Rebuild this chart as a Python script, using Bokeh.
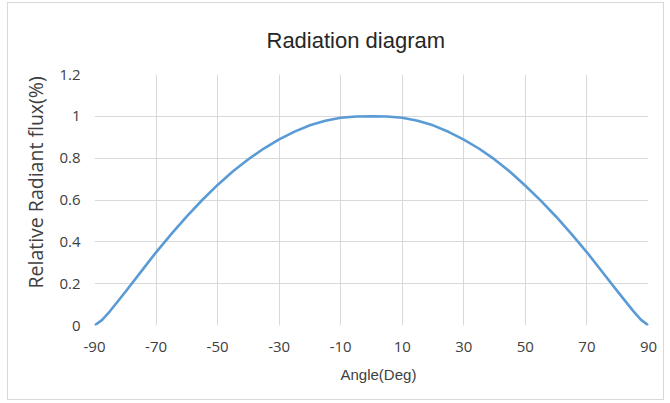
from bokeh.plotting import figure
from bokeh.models import FixedTicker, ColumnDataSource, Title
from bokeh.embed import file_html
from bokeh.resources import INLINE

# ---- data ----
angles = [-90, -87.5, -85, -80, -75, -70, -65, -60, -55, -50, -45, -40, -35, -30,
          -25, -20, -15, -10, -5, 0, 5, 10, 15, 20, 25, 30, 35, 40, 45, 50, 55,
          60, 65, 70, 75, 80, 85, 87.5, 90]
flux = [0.0, 0.027, 0.068, 0.16, 0.255, 0.35, 0.438, 0.522, 0.60, 0.672, 0.737,
        0.795, 0.846, 0.89, 0.927, 0.957, 0.979, 0.993, 0.999, 1.0, 0.999, 0.993,
        0.979, 0.957, 0.926, 0.889, 0.845, 0.794, 0.735, 0.668, 0.597, 0.52, 0.437,
        0.35, 0.256, 0.162, 0.07, 0.028, 0.0]
x_ticks = [-90, -70, -50, -30, -10, 10, 30, 50, 70, 90]
x_tick_labels = ["-90", "-70", "-50", "-30", "-10", "10", "30", "50", "70", "90"]
y_ticks = [0, 0.2, 0.4, 0.6, 0.8, 1.0, 1.2]
y_tick_labels = ["0", "0.2", "0.4", "0.6", "0.8", "1", "1.2"]

source = ColumnDataSource(data=dict(angle=angles, flux=flux))

p = figure(width=657, height=398, output_backend="svg", toolbar_location=None,
           x_range=(-90, 90), y_range=(0, 1.2),
           min_border_left=86, min_border_right=17, min_border_top=60,
           min_border_bottom=76)
p.margin = (2, 0, 0, 7)
p.styles = {"border": "1px solid #d9d9d9"}

p.line("angle", "flux", source=source, line_color="#5B9BD5", line_width=2.6)

main_title = Title(text="Radiation diagram", align="left", offset=172,
                   text_font="Liberation Sans", text_font_size="22px",
                   text_font_style="normal", text_color="#262626", standoff=44)
p.add_layout(main_title, "above")

p.xaxis.ticker = FixedTicker(ticks=x_ticks)
p.yaxis.ticker = FixedTicker(ticks=y_ticks)
p.xaxis.major_label_overrides = {t: l for t, l in zip(x_ticks, x_tick_labels)}
p.yaxis.major_label_overrides = {t: l for t, l in zip(y_ticks, y_tick_labels)}

for ax in (p.xaxis, p.yaxis):
    ax.axis_line_color = None
    ax.major_tick_line_color = None
    ax.minor_tick_line_color = None
    ax.major_label_text_font = "Open Sans"
    ax.major_label_text_font_size = "15px"
    ax.major_label_text_color = "#404040"

p.xaxis.major_label_standoff = 10
p.yaxis.major_label_standoff = 8

y_title = Title(text="Relative Radiant flux(%)", align="left", offset=37,
                text_font="Open Sans", text_font_size="19.5px",
                text_font_style="normal", text_color="#404040", standoff=15)
p.add_layout(y_title, "left")

x_title = Title(text="Angle(Deg)", align="left", offset=246,
                text_font="Liberation Sans", text_font_size="15px",
                text_font_style="normal", text_color="#404040", standoff=18)
p.add_layout(x_title, "below")

p.xgrid.grid_line_color = "#d9d9d9"
p.ygrid.grid_line_color = "#d9d9d9"
p.outline_line_color = None
p.background_fill_color = "white"
p.border_fill_color = "white"

open("out.html", "w").write(file_html(p, INLINE))
